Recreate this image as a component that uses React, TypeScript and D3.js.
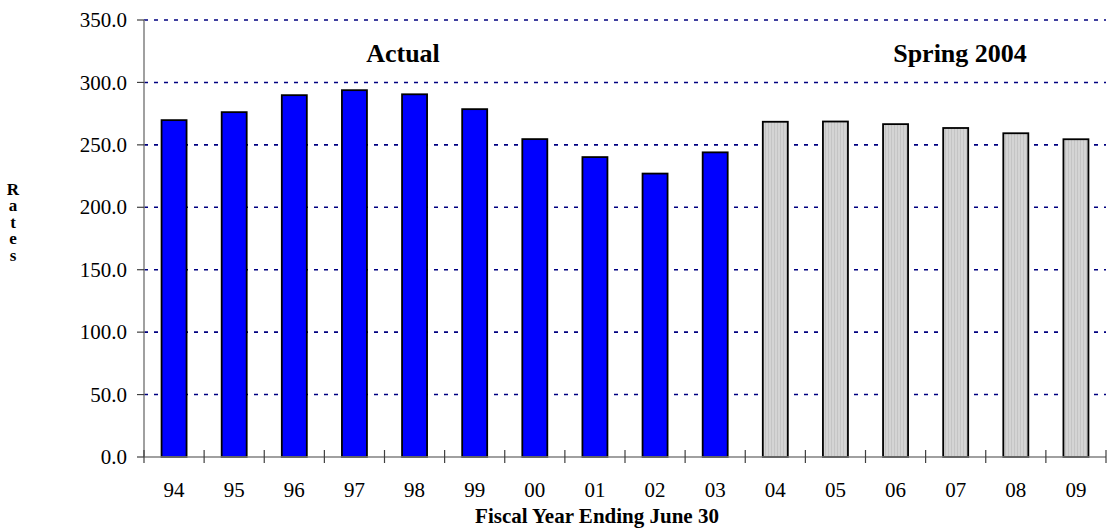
import { useEffect } from "react";
import * as d3 from "d3";

// fiscal years, actual then forecast
const years = ["94", "95", "96", "97", "98", "99", "00", "01", "02", "03", "04", "05", "06", "07", "08", "09"];
const rates = [269.8, 276.2, 289.8, 293.8, 290.5, 278.6, 254.6, 240.2, 227.0, 244.0, 268.5, 268.7, 266.6, 263.5, 259.3, 254.5];
const forecastFrom = "04";
const yTicks = [0, 50, 100, 150, 200, 250, 300, 350];

const W = 1110;
const H = 531;
const left = 144;
const right = 1106;
const top = 20;
const bottom = 457;

export default function App() {
  useEffect(() => {
    document.body.style.margin = "0";
  }, []);

  const x = d3.scaleBand<string>()
    .domain(years)
    .range([left, right])
    .paddingInner(0.584)
    .paddingOuter(0.292);

  const y = d3.scaleLinear().domain([0, 350]).range([bottom, top]);
  const fmt = d3.format(".1f");
  const step = x.step();
  const firstForecast = years.indexOf(forecastFrom);

  return (
    <svg width={W} height={H} style={{ display: "block", background: "#fff" }} fontFamily="'Liberation Serif', 'Times New Roman', serif">
      <defs>
        <pattern id="grayfill" width={3} height={4} patternUnits="userSpaceOnUse">
          <rect width={3} height={4} fill="#d4d4d4" />
          <rect x={0} width={1} height={4} fill="#c4c4c4" />
        </pattern>
      </defs>

      {/* gridlines */}
      {yTicks.filter(t => t > 0).map(t => (
        <line key={"g" + t} x1={left} x2={right} y1={y(t)} y2={y(t)}
          stroke="#000080" strokeWidth={1.6} strokeDasharray="4,6" />
      ))}

      {/* bars */}
      {years.map((yr, i) => (
        <rect key={yr} x={x(yr)} y={y(rates[i])} width={x.bandwidth()} height={bottom - y(rates[i])}
          fill={i >= firstForecast ? "url(#grayfill)" : "#0000ff"} stroke="#000" strokeWidth={1.8} />
      ))}

      {/* y axis */}
      <line x1={left} x2={left} y1={top} y2={bottom} stroke="#808080" strokeWidth={1.5} />
      {yTicks.map(t => (
        <g key={"y" + t}>
          <line x1={left - 7} x2={left} y1={y(t)} y2={y(t)} stroke="#404040" strokeWidth={1.2} />
          <text x={left - 17} y={y(t)} dy="0.34em" textAnchor="end" fontSize={21}>{fmt(t)}</text>
        </g>
      ))}

      {/* x axis */}
      <line x1={left} x2={right} y1={bottom} y2={bottom} stroke="#808080" strokeWidth={1.5} />
      {d3.range(years.length + 1).map(i => (
        <line key={"xt" + i} x1={left + i * step} x2={left + i * step} y1={bottom - 7} y2={bottom + 6}
          stroke="#404040" strokeWidth={1.2} />
      ))}
      {years.map(yr => (
        <text key={"xl" + yr} x={(x(yr) as number) + x.bandwidth() / 2} y={497} textAnchor="middle" fontSize={21}>{yr}</text>
      ))}

      {/* titles */}
      <text x={597} y={523} textAnchor="middle" fontSize={21} fontWeight="bold">Fiscal Year Ending June 30</text>
      <text x={13} y={180} fontSize={17} fontWeight="bold"
        style={{ writingMode: "vertical-rl", textOrientation: "upright", letterSpacing: "-2.6px" }}>Rates</text>
      <text x={403} y={62} textAnchor="middle" fontSize={26} fontWeight="bold">Actual</text>
      <text x={960} y={62} textAnchor="middle" fontSize={26} fontWeight="bold">Spring 2004</text>
    </svg>
  );
}
